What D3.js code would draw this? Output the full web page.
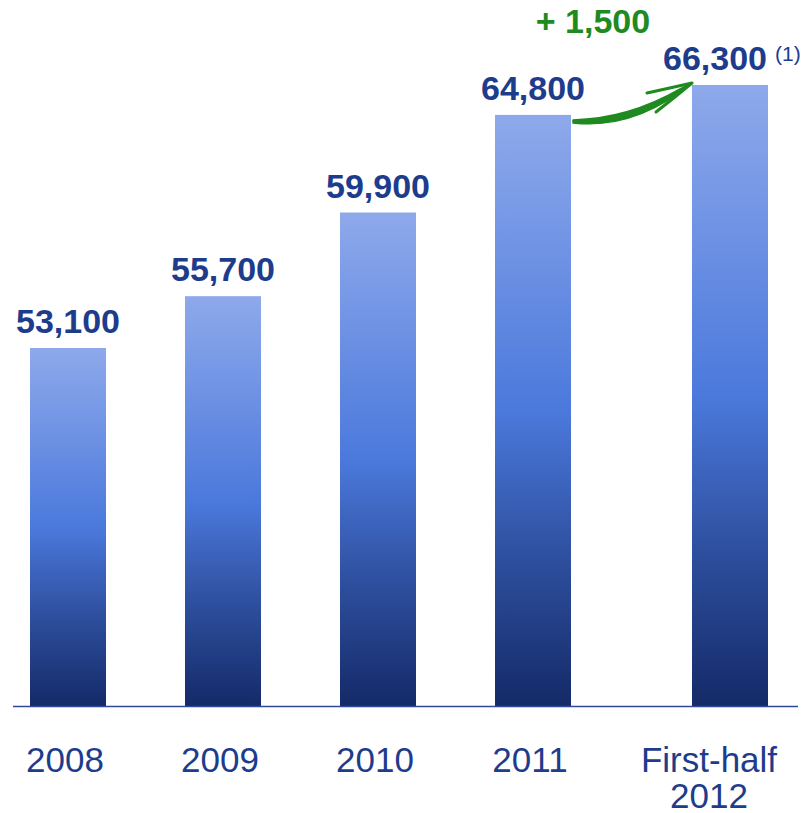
<!DOCTYPE html>
<html>
<head>
<meta charset="utf-8">
<script src="https://cdn.jsdelivr.net/npm/d3@7"></script>
<style>
  body { margin: 0; background: #fff; }
  svg { display: block; font-family: "Liberation Sans", Arial, sans-serif; }
</style>
</head>
<body>
<div id="chart-area"></div>
<script>
// data
var categories = ['2008', '2009', '2010', '2011', 'First-half 2012'];
var values = [53100, 55700, 59900, 64800, 66300];
var valueLabels = ['53,100', '55,700', '59,900', '64,800', '66,300'];
var increaseLabel = '+ 1,500';
var footnote = '(1)';

var width = 810;
var height = 813;
var baseline = 706;
var labelColor = '#1d3c8c';

var svg = d3.select('#chart-area').append('svg')
  .attr('width', width)
  .attr('height', height);

// vertical gradient used by every bar
var defs = svg.append('defs');
var grad = defs.append('linearGradient')
  .attr('id', 'barGrad')
  .attr('x1', 0).attr('y1', 0).attr('x2', 0).attr('y2', 1);
grad.append('stop').attr('offset', '0%').attr('stop-color', '#8ea9eb');
grad.append('stop').attr('offset', '50%').attr('stop-color', '#4b79dc');
grad.append('stop').attr('offset', '75%').attr('stop-color', '#2e4f9e');
grad.append('stop').attr('offset', '100%').attr('stop-color', '#142a68');

// scales (y axis does not start at zero in the original)
var x = d3.scaleBand()
  .domain(categories)
  .range([30, 726])
  .paddingInner(0.5097)
  .paddingOuter(0);
var lastCat = categories[categories.length - 1];
var extraGap = 42; // the last bar sits further right
function barX(d) {
  return x(d) + (d === lastCat ? extraGap : 0);
}
function mid(d) {
  return barX(d) + x.bandwidth() / 2;
}
var y = d3.scaleLinear().domain([35130, 66300]).range([baseline, 85]);

var rows = categories.map(function(c, i) {
  return { cat: c, value: values[i], label: valueLabels[i] };
});

// bars
svg.selectAll('rect.bar')
  .data(rows)
  .enter().append('rect')
  .attr('class', 'bar')
  .attr('x', function(d) { return barX(d.cat); })
  .attr('y', function(d) { return y(d.value); })
  .attr('width', x.bandwidth())
  .attr('height', function(d) { return baseline - y(d.value); })
  .attr('fill', 'url(#barGrad)');

// baseline
svg.append('line')
  .attr('x1', 13).attr('x2', 798)
  .attr('y1', baseline + 0.5).attr('y2', baseline + 0.5)
  .attr('stroke', '#2c4a99')
  .attr('stroke-width', 1.5);

// value labels (the last one is nudged left to leave room for the footnote)
svg.selectAll('text.value')
  .data(rows)
  .enter().append('text')
  .attr('class', 'value')
  .attr('x', function(d) { return mid(d.cat) - (d.cat === lastCat ? 15 : 0); })
  .attr('y', function(d) { return y(d.value) - 15; })
  .attr('text-anchor', 'middle')
  .attr('font-size', 34)
  .attr('font-weight', 'bold')
  .attr('fill', labelColor)
  .text(function(d) { return d.label; });

// footnote marker next to the last value
var last = rows[rows.length - 1];
svg.append('text')
  .attr('x', barX(last.cat) + x.bandwidth() + 7)
  .attr('y', y(last.value) - 24)
  .attr('font-size', 21)
  .attr('fill', labelColor)
  .text(footnote);

// category labels
svg.selectAll('text.cat')
  .data(rows)
  .enter().append('text')
  .attr('class', 'cat')
  .attr('y', 772)
  .attr('text-anchor', 'middle')
  .attr('font-size', 35)
  .attr('fill', labelColor)
  .each(function(d) {
    var parts = d.cat === lastCat ? ['First-half', '2012'] : [d.cat];
    var cx = mid(d.cat) - (d.cat === lastCat ? 21 : 3);
    var t = d3.select(this);
    parts.forEach(function(p, i) {
      t.append('tspan')
        .attr('x', cx)
        .attr('dy', i === 0 ? 0 : 36)
        .text(p);
    });
  });

// green increase arrow between the last two bars
var green = '#1f8a1f';
var prev = rows[rows.length - 2];
var x0 = barX(prev.cat) + x.bandwidth() + 2;
var y0 = y(prev.value) + 5;
var x1 = barX(last.cat);
var y1 = y(last.value) - 2;

// brush-like body: filled shape thicker in the middle
var body = d3.path();
body.moveTo(x0, y0);
body.quadraticCurveTo(x0 + 55, y0 - 1, x1 - 12, y1 + 6);
body.lineTo(x1, y1);
body.quadraticCurveTo(x0 + 62, y0 + 10, x0, y0 + 3);
body.closePath();
svg.append('path')
  .attr('d', body.toString())
  .attr('fill', green)
  .attr('stroke', green)
  .attr('stroke-width', 1.5)
  .attr('stroke-linejoin', 'round');

var head = d3.path();
head.moveTo(x1 - 45, y1 + 10);
head.quadraticCurveTo(x1 - 22, y1 + 5, x1, y1);
head.moveTo(x1, y1);
head.quadraticCurveTo(x1 - 18, y1 + 15, x1 - 36, y1 + 29);
svg.append('path')
  .attr('d', head.toString())
  .attr('fill', 'none')
  .attr('stroke', green)
  .attr('stroke-width', 3)
  .attr('stroke-linecap', 'round');

svg.append('text')
  .attr('x', 593)
  .attr('y', 33)
  .attr('text-anchor', 'middle')
  .attr('font-size', 34)
  .attr('font-weight', 'bold')
  .attr('fill', green)
  .text(increaseLabel);
</script>
</body>
</html>
